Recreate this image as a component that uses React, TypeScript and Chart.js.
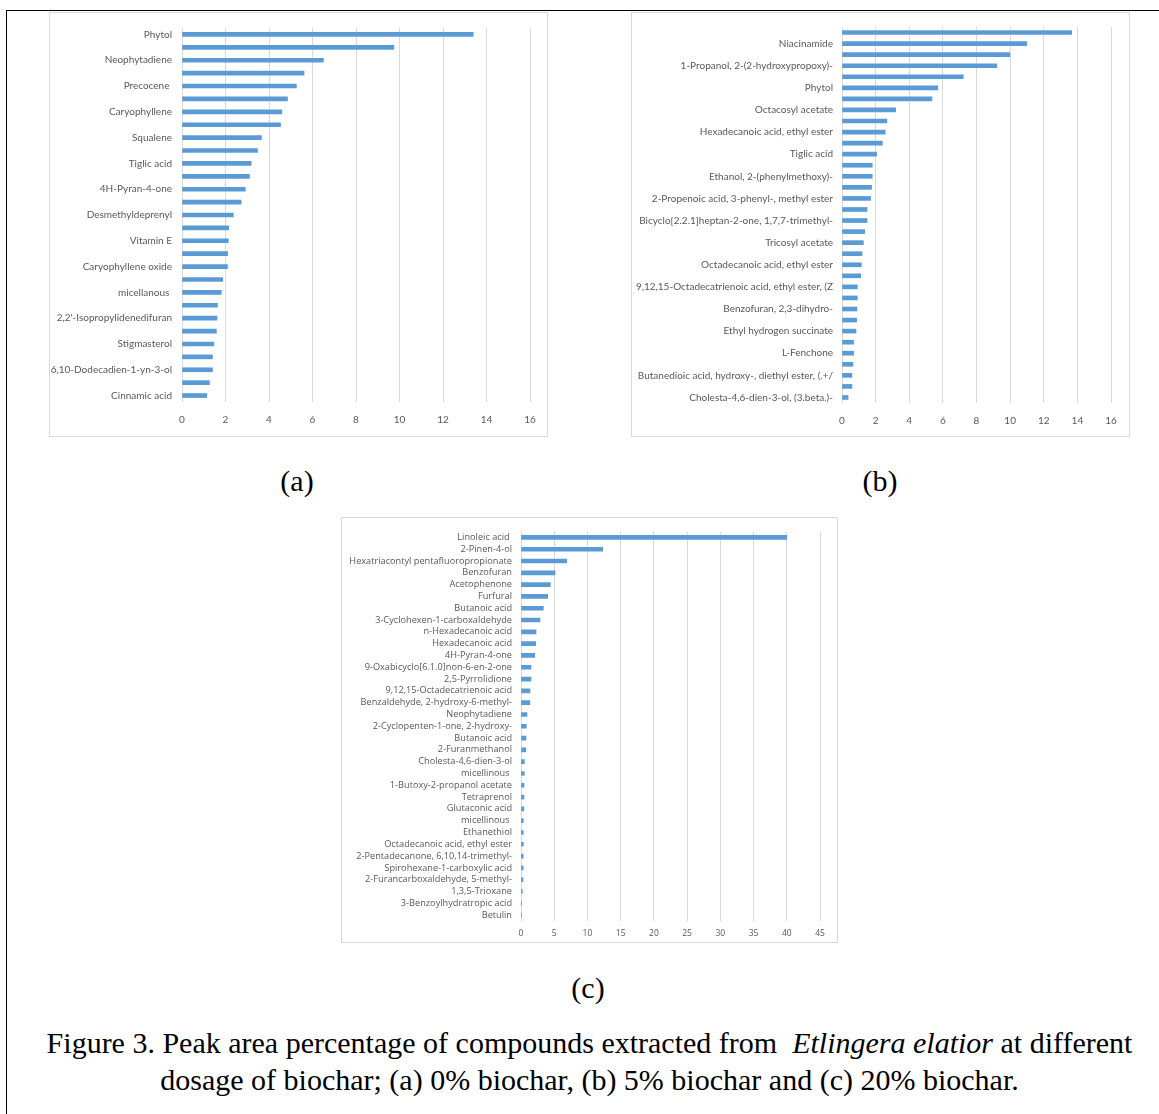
import React, { useEffect, useRef } from 'react';
import { Chart, registerables } from 'chart.js';

Chart.register(...registerables);

// ---------- (a) 0% biochar ----------
const labelsA = [
  'Phytol', '', 'Neophytadiene', '', 'Precocene ', '', 'Caryophyllene', '', 'Squalene', '',
  'Tiglic acid', '', '4H-Pyran-4-one', '', 'Desmethyldeprenyl', '', 'Vitamin E', '',
  'Caryophyllene oxide', '', 'micellanous ', '', "2,2'-Isopropylidenedifuran", '', 'Stigmasterol', '',
  '6,10-Dodecadien-1-yn-3-ol', '', 'Cinnamic acid',
];
const valuesA = [
  13.39, 9.74, 6.5, 5.61, 5.26, 4.85, 4.59, 4.53, 3.65, 3.47,
  3.18, 3.1, 2.91, 2.72, 2.36, 2.15, 2.13, 2.1, 2.09, 1.87,
  1.81, 1.63, 1.61, 1.58, 1.47, 1.4, 1.4, 1.26, 1.14,
];
const xTicksA = [0, 2, 4, 6, 8, 10, 12, 14, 16];

// ---------- (b) 5% biochar ----------
const labelsB = [
  '', 'Niacinamide', '', '1-Propanol, 2-(2-hydroxypropoxy)-', '', 'Phytol', '', 'Octacosyl acetate', '',
  'Hexadecanoic acid, ethyl ester', '', 'Tiglic acid', '', 'Ethanol, 2-(phenylmethoxy)-', '',
  '2-Propenoic acid, 3-phenyl-, methyl ester', '', 'Bicyclo[2.2.1]heptan-2-one, 1,7,7-trimethyl-', '',
  'Tricosyl acetate', '', 'Octadecanoic acid, ethyl ester', '', '9,12,15-Octadecatrienoic acid, ethyl ester, (Z', '',
  'Benzofuran, 2,3-dihydro-', '', 'Ethyl hydrogen succinate', '', 'L-Fenchone', '',
  'Butanedioic acid, hydroxy-, diethyl ester, (.+/', '', 'Cholesta-4,6-dien-3-ol, (3.beta.)-',
];
const valuesB = [
  13.66, 10.99, 9.98, 9.21, 7.21, 5.7, 5.35, 3.19, 2.67, 2.57,
  2.4, 2.06, 1.8, 1.8, 1.76, 1.7, 1.49, 1.49, 1.35, 1.27,
  1.19, 1.15, 1.11, 0.91, 0.91, 0.89, 0.87, 0.83, 0.69, 0.69,
  0.65, 0.59, 0.59, 0.36,
];
const xTicksB = [0, 2, 4, 6, 8, 10, 12, 14, 16];

// ---------- (c) 20% biochar ----------
const labelsC = [
  'Linoleic acid ', '2-Pinen-4-ol', 'Hexatriacontyl pentafluoropropionate', 'Benzofuran', 'Acetophenone',
  'Furfural', 'Butanoic acid', '3-Cyclohexen-1-carboxaldehyde', 'n-Hexadecanoic acid', 'Hexadecanoic acid',
  '4H-Pyran-4-one', '9-Oxabicyclo[6.1.0]non-6-en-2-one', '2,5-Pyrrolidione', '9,12,15-Octadecatrienoic acid',
  'Benzaldehyde, 2-hydroxy-6-methyl-', 'Neophytadiene', '2-Cyclopenten-1-one, 2-hydroxy-', 'Butanoic acid',
  '2-Furanmethanol', 'Cholesta-4,6-dien-3-ol', 'micellinous ', '1-Butoxy-2-propanol acetate', 'Tetraprenol',
  'Glutaconic acid', 'micellinous ', 'Ethanethiol', 'Octadecanoic acid, ethyl ester',
  '2-Pentadecanone, 6,10,14-trimethyl-', 'Spirohexane-1-carboxylic acid', '2-Furancarboxaldehyde, 5-methyl-',
  '1,3,5-Trioxane', '3-Benzoylhydratropic acid', 'Betulin',
];
const valuesC = [
  40.0, 12.3, 6.88, 5.12, 4.42, 4.02, 3.36, 2.86, 2.26, 2.21,
  2.06, 1.51, 1.51, 1.36, 1.33, 0.9, 0.8, 0.75, 0.72, 0.5,
  0.5, 0.45, 0.45, 0.42, 0.35, 0.35, 0.35, 0.33, 0.33, 0.3,
  0.2, 0.1, 0.03,
];
const xTicksC = [0, 5, 10, 15, 20, 25, 30, 35, 40, 45];

const BAR_COLOR = '#5B9BD5';
const GRID_COLOR = '#d9d9d9';
const TEXT_COLOR = '#595959';

type Box = { x: number; y: number; w: number; h: number };

function HBar(props: {
  labels: string[];
  values: number[];
  xTicks: number[];
  box: Box;
  yWidth: number;
  xHeight: number;
  pad: { left: number; right: number; top: number; bottom: number };
  yFont: any;
  xFont: any;
  yPad: number;
  xPad: number;
}) {
  const ref = useRef<HTMLCanvasElement>(null);
  useEffect(() => {
    const { labels, values, xTicks, yWidth, xHeight, pad, yFont, xFont, yPad, xPad } = props;
    const chart = new Chart(ref.current as HTMLCanvasElement, {
      type: 'bar',
      data: {
        labels,
        datasets: [{ data: values, backgroundColor: BAR_COLOR, barThickness: 4 }],
      },
      options: {
        indexAxis: 'y',
        responsive: false,
        maintainAspectRatio: false,
        animation: false,
        layout: { padding: pad },
        plugins: { legend: { display: false }, tooltip: { enabled: false } },
        scales: {
          x: {
            min: xTicks[0],
            max: xTicks[xTicks.length - 1],
            afterBuildTicks: (s: any) => {
              s.ticks = xTicks.map((v) => ({ value: v }));
            },
            afterFit: (s: any) => {
              s.height = xHeight;
            },
            grid: { color: GRID_COLOR, drawTicks: false, lineWidth: 1 },
            border: { display: false },
            ticks: { color: TEXT_COLOR, font: xFont, padding: xPad, maxRotation: 0, autoSkip: false },
          },
          y: {
            afterFit: (s: any) => {
              s.width = yWidth;
            },
            grid: { display: false, drawTicks: false },
            border: { display: false },
            ticks: { color: TEXT_COLOR, font: yFont, padding: yPad, autoSkip: false },
          },
        },
      } as any,
    });
    return () => chart.destroy();
  }, []);
  const { box } = props;
  return (
    <div
      style={{
        position: 'absolute',
        left: box.x,
        top: box.y,
        width: box.w,
        height: box.h,
        border: '1px solid #d9d9d9',
        boxSizing: 'border-box',
        background: '#fff',
      }}
    >
      <canvas ref={ref} width={box.w} height={box.h} style={{ position: 'absolute', left: -1, top: -1 }} />
    </div>
  );
}

const serif = '"Liberation Serif", "Times New Roman", serif';
const fontAB = { family: 'Lato, "Liberation Sans", sans-serif', size: 10 };
const fontC = { family: '"Open Sans", "DejaVu Sans", sans-serif', size: 9.2 };
const fontCx = { family: '"Open Sans", "DejaVu Sans", sans-serif', size: 8.5 };

function SubLabel({ text, cx, cy }: { text: string; cx: number; cy: number }) {
  return (
    <div
      style={{
        position: 'absolute',
        left: cx - 50,
        top: cy - 18,
        width: 100,
        height: 36,
        lineHeight: '36px',
        textAlign: 'center',
        fontFamily: serif,
        fontSize: 30,
        color: '#000',
      }}
    >
      {text}
    </div>
  );
}

export default function App() {
  return (
    <div
      style={{
        position: 'absolute',
        left: 0,
        top: 0,
        width: 1159,
        height: 1114,
        background: '#fff',
        overflow: 'hidden',
      }}
    >
      <div
        style={{
          position: 'absolute',
          left: 6,
          top: 10,
          width: 1200,
          height: 1200,
          borderTop: '1px solid #000',
          borderLeft: '1px solid #000',
        }}
      />
      <HBar
        labels={labelsA}
        values={valuesA}
        xTicks={xTicksA}
        box={{ x: 49, y: 12, w: 499, h: 425 }}
        yWidth={133}
        xHeight={30}
        pad={{ left: 0, right: 18, top: 16, bottom: 5 }}
        yFont={fontAB}
        xFont={fontAB}
        yPad={10}
        xPad={12}
      />
      <HBar
        labels={labelsB}
        values={valuesB}
        xTicks={xTicksB}
        box={{ x: 631, y: 12, w: 499, h: 425 }}
        yWidth={211}
        xHeight={30}
        pad={{ left: 0, right: 19, top: 15, bottom: 4 }}
        yFont={fontAB}
        xFont={fontAB}
        yPad={9}
        xPad={12}
      />
      <HBar
        labels={labelsC}
        values={valuesC}
        xTicks={xTicksC}
        box={{ x: 341, y: 517, w: 497, h: 426 }}
        yWidth={180}
        xHeight={18}
        pad={{ left: 0, right: 18, top: 13, bottom: 4 }}
        yFont={fontC}
        xFont={fontCx}
        yPad={9}
        xPad={7}
      />
      <SubLabel text="(a)" cx={297} cy={481} />
      <SubLabel text="(b)" cx={880} cy={481} />
      <SubLabel text="(c)" cx={588} cy={988} />
      <div
        style={{
          position: 'absolute',
          left: 10,
          top: 1024,
          width: 1159,
          textAlign: 'center',
          fontFamily: serif,
          fontSize: 30,
          lineHeight: '37px',
          color: '#000',
          whiteSpace: 'pre',
        }}
      >
        <div>
          {'Figure 3. Peak area percentage of compounds extracted from  '}
          <i>Etlingera elatior</i>
          {' at different'}
        </div>
        <div>dosage of biochar; (a) 0% biochar, (b) 5% biochar and (c) 20% biochar.</div>
      </div>
    </div>
  );
}
